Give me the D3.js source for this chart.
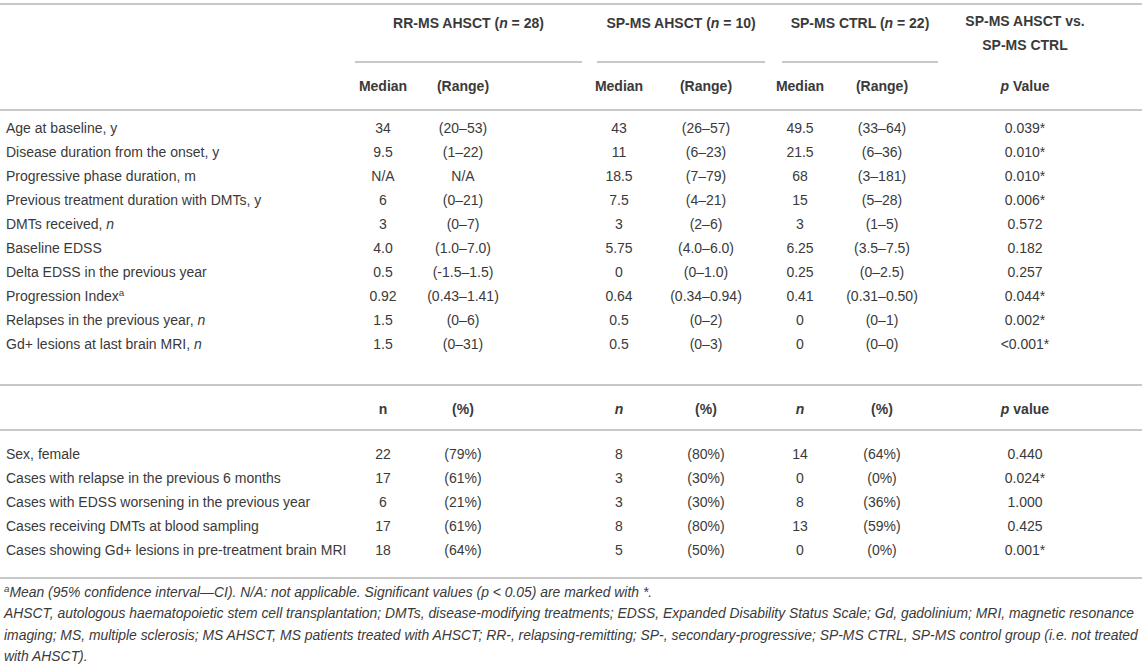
<!DOCTYPE html>
<html>
<head>
<meta charset="utf-8">
<script src="https://cdn.jsdelivr.net/npm/d3@7/dist/d3.min.js"></script>
<style>
  html, body { margin: 0; padding: 0; background: #fff; }
  svg { display: block; font-family: "Liberation Sans", Arial, Helvetica, sans-serif; }
</style>
</head>
<body>
<svg id="table"></svg>
<script>
// ── Data ─────────────────────────────────────────────────────────────
const groups = [
    { name: "RR-MS AHSCT", n: 28 },
    { name: "SP-MS AHSCT", n: 10 },
    { name: "SP-MS CTRL",  n: 22 }
];

const contLabels = [
    "Age at baseline, y",
    "Disease duration from the onset, y",
    "Progressive phase duration, m",
    "Previous treatment duration with DMTs, y",
    "DMTs received, |n|",
    "Baseline EDSS",
    "Delta EDSS in the previous year",
    "Progression Index^a^",
    "Relapses in the previous year, |n|",
    "Gd+ lesions at last brain MRI, |n|"
];
const rrMedian   = ["34", "9.5", "N/A", "6", "3", "4.0", "0.5", "0.92", "1.5", "1.5"];
const rrRange    = ["(20–53)", "(1–22)", "N/A", "(0–21)", "(0–7)", "(1.0–7.0)", "(-1.5–1.5)", "(0.43–1.41)", "(0–6)", "(0–31)"];
const spMedian   = ["43", "11", "18.5", "7.5", "3", "5.75", "0", "0.64", "0.5", "0.5"];
const spRange    = ["(26–57)", "(6–23)", "(7–79)", "(4–21)", "(2–6)", "(4.0–6.0)", "(0–1.0)", "(0.34–0.94)", "(0–2)", "(0–3)"];
const ctrlMedian = ["49.5", "21.5", "68", "15", "3", "6.25", "0.25", "0.41", "0", "0"];
const ctrlRange  = ["(33–64)", "(6–36)", "(3–181)", "(5–28)", "(1–5)", "(3.5–7.5)", "(0–2.5)", "(0.31–0.50)", "(0–1)", "(0–0)"];
const contP      = ["0.039*", "0.010*", "0.010*", "0.006*", "0.572", "0.182", "0.257", "0.044*", "0.002*", "<0.001*"];

const catLabels = [
    "Sex, female",
    "Cases with relapse in the previous 6 months",
    "Cases with EDSS worsening in the previous year",
    "Cases receiving DMTs at blood sampling",
    "Cases showing Gd+ lesions in pre-treatment brain MRI"
];
const rrN     = ["22", "17", "6", "17", "18"];
const rrPct   = ["(79%)", "(61%)", "(21%)", "(61%)", "(64%)"];
const spN     = ["8", "3", "3", "8", "5"];
const spPct   = ["(80%)", "(30%)", "(30%)", "(80%)", "(50%)"];
const ctrlN   = ["14", "0", "8", "13", "0"];
const ctrlPct = ["(64%)", "(0%)", "(36%)", "(59%)", "(0%)"];
const catP    = ["0.440", "0.024*", "1.000", "0.425", "0.001*"];

const contHeads = ["Median", "(Range)", "Median", "(Range)", "Median", "(Range)", "|p| Value"];
const catHeads  = ["n", "(%)", "|n|", "(%)", "|n|", "(%)", "|p| value"];

const footnotes = [
    "^a^Mean (95% confidence interval—CI). N/A: not applicable. Significant values (p < 0.05) are marked with *.",
    "AHSCT, autologous haematopoietic stem cell transplantation; DMTs, disease-modifying treatments; EDSS, Expanded Disability Status Scale; Gd, gadolinium; MRI, magnetic resonance",
    "imaging; MS, multiple sclerosis; MS AHSCT, MS patients treated with AHSCT; RR-, relapsing-remitting; SP-, secondary-progressive; SP-MS CTRL, SP-MS control group (i.e. not treated",
    "with AHSCT)."
];

// ── Layout ───────────────────────────────────────────────────────────
const W = 1146, H = 669;
const FS = 14;
const TEXT = "#3a3a3a";
const RULE = "#c8c8c8";

const colKeys = ["rrA", "rrB", "spA", "spB", "ctA", "ctB", "p"];
const x = d3.scaleOrdinal()
    .domain(colKeys)
    .range([383, 463, 619, 706, 800, 882, 1025]);

// group header spans (underline extents)
const spans = [[355, 582], [597, 765], [782, 938]];

const yCont = d3.scalePoint().domain(d3.range(contLabels.length)).range([128, 344]);
const yCat  = d3.scalePoint().domain(d3.range(catLabels.length)).range([454, 550]);

const svg = d3.select("#table").attr("width", W).attr("height", H);
svg.append("rect").attr("width", W).attr("height", H).attr("fill", "#fff");

// write text with |italic| and ^superscript^ markup
function rich(sel, str) {
    const parts = str.split(/(\|[^|]+\||\^[^^]+\^)/).filter(s => s.length);
    parts.forEach(p => {
        if (p.startsWith("|")) {
            sel.append("tspan").attr("font-style", "italic").text(p.slice(1, -1));
        } else if (p.startsWith("^")) {
            sel.append("tspan").attr("baseline-shift", "super").attr("font-size", "0.7em").text(p.slice(1, -1));
        } else {
            sel.append("tspan").text(p);
        }
    });
    return sel;
}

function cell(xp, yp, str, opts = {}) {
    const t = svg.append("text")
        .attr("x", xp).attr("y", yp).attr("dy", "0.35em")
        .attr("text-anchor", opts.anchor || "middle")
        .attr("fill", TEXT).attr("font-size", opts.size || FS)
        .attr("font-weight", opts.bold ? "700" : "400");
    if (opts.italic) t.attr("font-style", "italic");
    return rich(t, str);
}

function rule(x1, x2, y, w = 2) {
    svg.append("line")
        .attr("x1", x1).attr("x2", x2).attr("y1", y).attr("y2", y)
        .attr("stroke", RULE).attr("stroke-width", w);
}

// ── Header ───────────────────────────────────────────────────────────
rule(0, W - 4, 4);
groups.forEach((g, i) => {
    const c = (spans[i][0] + spans[i][1]) / 2;
    cell(c, 23, `${g.name} (|n| = ${g.n})`, { bold: true });
    rule(spans[i][0], spans[i][1], 62);
});
cell(x("p"), 21, "SP-MS AHSCT vs.", { bold: true });
cell(x("p"), 45, "SP-MS CTRL", { bold: true });

contHeads.forEach((h, i) => cell(x(colKeys[i]), 86, h, { bold: true }));
rule(0, W - 4, 110);

// ── Continuous rows ──────────────────────────────────────────────────
const contCols = [rrMedian, rrRange, spMedian, spRange, ctrlMedian, ctrlRange, contP];
contLabels.forEach((lab, r) => {
    cell(6, yCont(r), lab, { anchor: "start" });
    contCols.forEach((col, c) => cell(x(colKeys[c]), yCont(r), col[r]));
});

// ── Categorical rows ─────────────────────────────────────────────────
rule(0, W - 4, 385);
catHeads.forEach((h, i) => cell(x(colKeys[i]), 409, h, { bold: true }));
rule(0, W - 4, 430);

const catCols = [rrN, rrPct, spN, spPct, ctrlN, ctrlPct, catP];
catLabels.forEach((lab, r) => {
    cell(6, yCat(r), lab, { anchor: "start" });
    catCols.forEach((col, c) => cell(x(colKeys[c]), yCat(r), col[r]));
});
rule(0, W - 4, 578);

// ── Footnotes ────────────────────────────────────────────────────────
footnotes.forEach((f, i) => {
    cell(4, 592 + i * 21.5, f, { anchor: "start", italic: true, size: 13.9 });
});
</script>
</body>
</html>
